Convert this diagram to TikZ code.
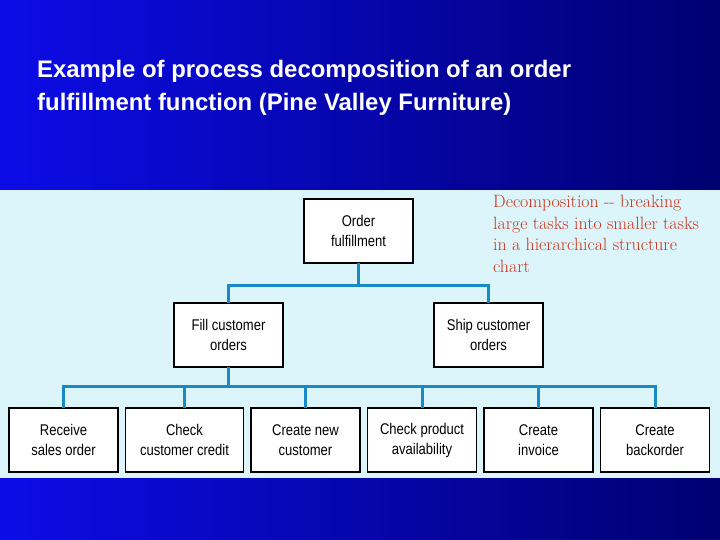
\documentclass[tikz,border=0pt]{standalone}
\usepackage{fontspec}
\usepackage{xcolor}
\usepackage{tikz}
\usetikzlibrary{arrows.meta,positioning}

\newfontfamily\titlefont{Liberation Sans}
\newfontfamily\boxfont[FakeStretch=0.84]{Liberation Sans}

\definecolor{slideblue}{RGB}{12,12,232}
\definecolor{slidenavy}{RGB}{0,0,112}
\definecolor{panelcyan}{RGB}{219,245,251}
\definecolor{buscolor}{RGB}{24,138,198}
\definecolor{notered}{RGB}{205,50,25}

\begin{document}
\begin{tikzpicture}[x=1pt,y=-1pt,node distance=7.5pt,>=Latex]
  \tikzstyle{task}=[draw,fill=white,line width=1.3pt,outer sep=0pt,align=center,minimum width=109pt,minimum height=64pt,inner sep=2pt,font=\boxfont\fontsize{15.5}{20}\selectfont]
  \tikzstyle{bus}=[draw=buscolor,line width=3pt]
  % slide background and panel
  \useasboundingbox (0,0) rectangle (720,540);
  \shade[left color=slideblue,right color=slidenavy] (0,0) rectangle (720,540);
  \fill[panelcyan] (0,190) rectangle (720,478);
  \node[anchor=north west,inner sep=0pt,align=left,text=white,font=\titlefont\bfseries\fontsize{23.9}{32.5}\selectfont] (title) at (37,60)
    {Example of process decomposition of an order\\fulfillment function (Pine Valley Furniture)};
  \node[anchor=north west,inner sep=0pt,align=left,text=notered,font=\addfontfeatures{FakeBold=0.5}\fontsize{17.8}{21.7}\selectfont] (note) at (493,195)
    {Decomposition -{}- breaking\\large tasks into smaller tasks\\in a hierarchical structure\\chart};
  % hierarchy
  \node[task] (order) at (358.5,231) {Order\\fulfillment};
  \node[task] (fill) at (228.5,335) {Fill customer\\orders};
  \node[task] (ship) at (488.5,335) {Ship customer\\orders};
  \node[task] (receive) at (63.5,440) {Receive\\sales order};
  \node[task,minimum width=118pt,right=of receive] (credit) {Check\\customer credit};
  \node[task,right=of credit] (newcust) {Create new\\customer};
  \node[task,right=of newcust] (avail) {Check product\\availability};
  \node[task,right=of avail] (invoice) {Create\\invoice};
  \node[task,right=of invoice] (backorder) {Create\\backorder};
  \foreach \b in {fill,ship}
    \draw[bus] (order.south) -- ++(0,22) -| (\b.north);
  \foreach \b in {receive,credit,newcust,avail,invoice,backorder}
    \draw[bus] (fill.south) -- ++(0,19) -| (\b.north);
\end{tikzpicture}
\end{document}
